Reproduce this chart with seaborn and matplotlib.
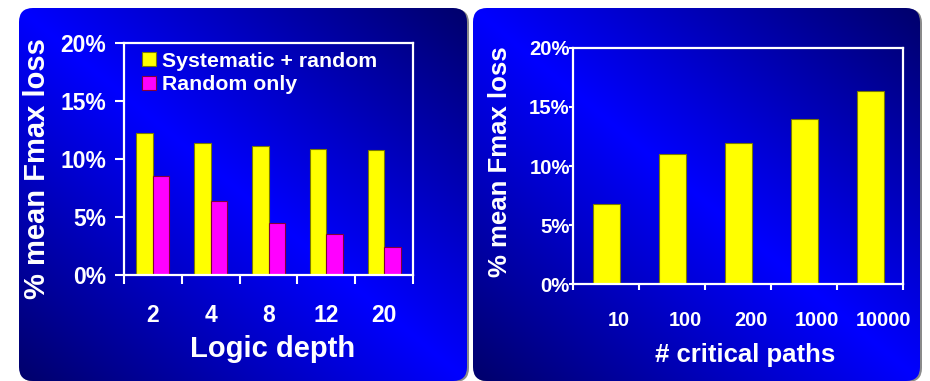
# two bar charts on blue gradient panels
import numpy as np
import pandas as pd
import matplotlib
matplotlib.use('Agg')
import matplotlib.pyplot as plt
import matplotlib.transforms as mtransforms
from matplotlib.patches import FancyBboxPatch, Patch
from matplotlib.ticker import FixedLocator
import seaborn as sns

# --- data ---
depth = ['2', '4', '8', '12', '20']
sys_rand = [12.2, 11.4, 11.1, 10.9, 10.75]
rand_only = [8.55, 6.4, 4.45, 3.55, 2.45]
series = ['Systematic + random', 'Random only']

paths = ['10', '100', '200', '1000', '10000']
path_loss = [6.75, 11.0, 11.95, 13.95, 16.3]

yticks = [0, 5, 10, 15, 20]

sns.set_theme(style='white')
plt.rcParams['font.family'] = ['Liberation Sans', 'DejaVu Sans']
plt.rcParams['font.weight'] = 'bold'
plt.rcParams['axes.labelweight'] = 'bold'

W, H = 930, 381
fig = plt.figure(figsize=(9.3, 3.81), dpi=100)
fig.patch.set_facecolor('white')

# background panels (pixel coordinates)
bg = fig.add_axes([0, 0, 1, 1], zorder=0)
bg.axis('off')


def panel(x0, y0, x1, y1):
    shadow = FancyBboxPatch((x0 + 2, y0 + 1), x1 - x0, y1 - y0,
                            boxstyle='round,pad=0,rounding_size=14',
                            fc='#8a8a8a', ec='none', zorder=0)
    bg.add_patch(shadow)
    box = FancyBboxPatch((x0, y0), x1 - x0, y1 - y0,
                         boxstyle='round,pad=0,rounding_size=14',
                         fc='none', ec='none', zorder=0)
    bg.add_patch(box)
    U, V = np.meshgrid(np.linspace(0, 1, 300), np.linspace(0, 1, 300))
    t = 1 - np.abs(U - V)
    dark = np.array([0, 0, 0.42])
    bright = np.array([0, 0, 1.0])
    img = dark + (bright - dark) * t[..., None]
    im = bg.imshow(img, extent=(x0, x1, y1, y0), aspect='auto',
                   interpolation='bilinear', zorder=1)
    im.set_clip_path(box)


panel(19, 8, 467, 381)
panel(473, 8, 920, 381)
bg.set_xlim(0, W)
bg.set_ylim(H, 0)


def style_axes(ax):
    ax.set_facecolor('none')
    for s in ax.spines.values():
        s.set_color('white')
        s.set_linewidth(1.6)
    ax.set_ylim(0, 20)
    ax.set_yticks(yticks)
    ax.set_yticklabels([f'{v}%' for v in yticks])
    n = len(ax.get_xticks())
    ax.set_xlim(-0.5, n - 0.5)
    ax.xaxis.set_minor_locator(FixedLocator(np.arange(-0.5, n, 1.0)))


# --- left chart ---
ax1 = fig.add_axes([124 / W, 1 - 275 / H, 289 / W, 232 / H], zorder=2)
df1 = pd.DataFrame({
    'depth': depth * 2,
    'loss': sys_rand + rand_only,
    'kind': [series[0]] * 5 + [series[1]] * 5,
})
sns.barplot(data=df1, x='depth', y='loss', hue='kind', hue_order=series,
            palette=['#ffff00', '#ff00ff'], saturation=1, width=0.57,
            linewidth=0.8, ax=ax1, legend=False)
for cont, ec in zip(ax1.containers, ['#7a7a00', '#80003a']):
    for bar in cont:
        bar.set_edgecolor(ec)
style_axes(ax1)
ax1.tick_params(axis='y', length=6.5, width=1.5, color='white', pad=6.5,
                labelsize=16.5, labelcolor='white', left=True)
ax1.tick_params(axis='x', which='major', length=0, pad=21,
                labelsize=16.5, labelcolor='white')
ax1.tick_params(axis='x', which='minor', length=6.5, width=1.5,
                color='white', bottom=True)
ax1.set_xlabel('Logic depth', fontsize=21, color='white', fontweight='bold')
ax1.set_ylabel('% mean Fmax loss', fontsize=21, color='white',
               fontweight='bold')
ax1.xaxis.set_label_coords(0.5156, -0.26)
ax1.yaxis.set_label_coords(-0.2526, 0.457)

handles = [Patch(fc='#ffff00', ec='#7a7a00', lw=0.8),
           Patch(fc='#ff00ff', ec='#80003a', lw=0.8)]
ax1.legend(handles, series, loc='upper left', bbox_to_anchor=(0.062, 0.962),
           frameon=False, prop={'size': 15.3, 'weight': 'bold'},
           labelcolor='white', handlelength=0.65, handleheight=0.65,
           handletextpad=0.3, labelspacing=0.2, borderaxespad=0, borderpad=0)

# --- right chart ---
ax2 = fig.add_axes([573.3 / W, 1 - 284.3 / H, 330 / W, 236.6 / H], zorder=2)
df2 = pd.DataFrame({'paths': paths, 'loss': path_loss})
sns.barplot(data=df2, x='paths', y='loss', color='#ffff00', saturation=1,
            width=0.41, linewidth=0.8, edgecolor='#7a7a00', ax=ax2)
style_axes(ax2)
ax2.tick_params(axis='y', length=3, width=1.5, color='white', pad=-0.5,
                labelsize=14.6, labelcolor='white', left=True)
ax2.tick_params(axis='x', which='major', length=0, pad=19,
                labelsize=14.3, labelcolor='white')
ax2.tick_params(axis='x', which='minor', length=4, width=1.5,
                color='white', bottom=True)
shift = mtransforms.ScaledTranslation(13 / 100, 0, fig.dpi_scale_trans)
for lab in ax2.get_xticklabels():
    lab.set_transform(lab.get_transform() + shift)
ax2.set_xlabel('# critical paths', fontsize=18.5, color='white',
               fontweight='bold')
ax2.set_ylabel('% mean Fmax loss', fontsize=18.5, color='white',
               fontweight='bold')
ax2.xaxis.set_label_coords(0.520, -0.248)
ax2.yaxis.set_label_coords(-0.186, 0.518)

fig.savefig('out.png', dpi=100)
